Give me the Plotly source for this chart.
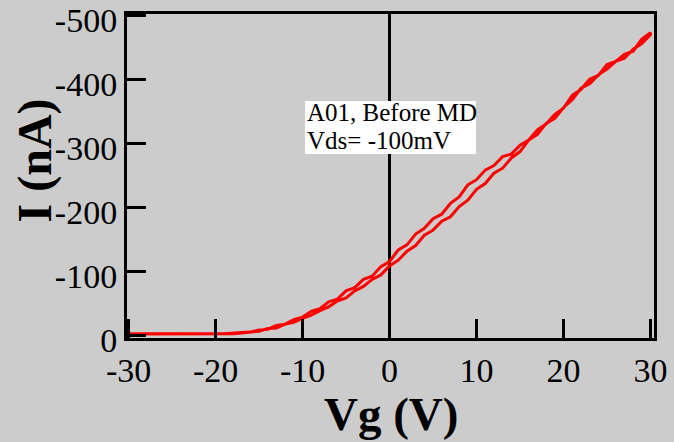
import plotly.graph_objects as go

# Gate voltage sweep (V)
vg_forward = list(range(-30, 31))
vg_reverse = list(range(30, -31, -1))

# Drain current (nA), forward sweep -30 -> 30
i_forward = [-1.5, -1.5, -1.5, -1.5, -1.5, -1.5, -1.5, -1.5, -1.5, -1.5, -1.5, -2,
             -2, -3, -4, -6, -10, -11, -17, -20, -26, -31, -38, -44, -53, -58,
             -69, -76, -87, -94, -108, -117, -131, -140, -156, -164, -178, -185,
             -201, -211, -228, -237, -253, -261, -277, -287, -305, -314, -331,
             -339, -356, -368, -386, -393, -407, -416, -428, -433, -447, -456, -470]

# Drain current (nA), reverse sweep 30 -> -30
i_reverse = [-473, -463, -444, -439, -428, -423, -406, -400, -384, -375, -355,
             -345, -330, -321, -305, -297, -283, -279, -265, -258, -243, -235,
             -216, -206, -189, -182, -167, -158, -141, -133, -115, -107, -92,
             -87, -74, -69, -56, -52, -41, -37, -28, -24, -17, -15, -9, -8,
             -4.5, -4, -2.5, -2, -2, -2, -2, -2, -2, -2, -2, -2, -2, -2, -2]

x_ticks = [-30, -20, -10, 0, 10, 20, 30]
y_ticks = [0, -100, -200, -300, -400, -500]

label_line1 = "A01, Before MD"
label_line2 = "Vds= -100mV"
x_title = "Vg (V)"
y_title = "I (nA)"

BG = "#cccccc"
FONT = "Liberation Serif"

fig = go.Figure()
fig.add_trace(go.Scatter(
    x=vg_forward + vg_reverse,
    y=i_forward + i_reverse,
    mode="lines",
    line=dict(color="#ff0000", width=3),
    showlegend=False,
))

axis_common = dict(
    showline=True, linecolor="black", linewidth=3, mirror=True,
    ticks="inside", ticklen=19, tickwidth=3, tickcolor="black",
    showgrid=False, automargin=False,
    tickfont=dict(family=FONT, size=34, color="black"),
)

fig.update_layout(
    width=674, height=442,
    margin=dict(l=127, r=20, t=14, b=104, autoexpand=False),
    paper_bgcolor=BG, plot_bgcolor=BG,
    xaxis=dict(range=[-30.18, 30.4], tickvals=x_ticks,
               ticktext=[str(v) for v in x_ticks],
               zeroline=True, zerolinecolor="black", zerolinewidth=2.5,
               **axis_common),
    yaxis=dict(range=[4.7, -502.2], tickvals=y_ticks,
               ticktext=[str(v) for v in y_ticks],
               ticklabelshift=-5,
               zeroline=False, **axis_common),
    shapes=[dict(type="rect", xref="paper", yref="paper",
                 x0=0.3378, x1=0.6622, y0=0.568, y1=0.7315,
                 fillcolor="white", line=dict(width=0), layer="above")],
    annotations=[
        dict(text=label_line1, xref="paper", yref="paper", x=0.338, y=0.697,
             xanchor="left", yanchor="middle", showarrow=False,
             font=dict(family=FONT, size=25, color="black")),
        dict(text=label_line2, xref="paper", yref="paper", x=0.338, y=0.611,
             xanchor="left", yanchor="middle", showarrow=False,
             font=dict(family=FONT, size=25, color="black")),
        dict(text="<b>" + x_title + "</b>", xref="paper", yref="paper",
             x=0.501, y=-0.236, xanchor="center", yanchor="middle",
             showarrow=False, font=dict(family=FONT, size=47, color="black")),
        dict(text="<b>" + y_title + "</b>", xref="paper", yref="paper",
             x=-0.1746, y=0.548, xanchor="center", yanchor="middle",
             textangle=-90, showarrow=False,
             font=dict(family=FONT, size=48, color="black")),
    ],
)

fig.write_html("out.html")
